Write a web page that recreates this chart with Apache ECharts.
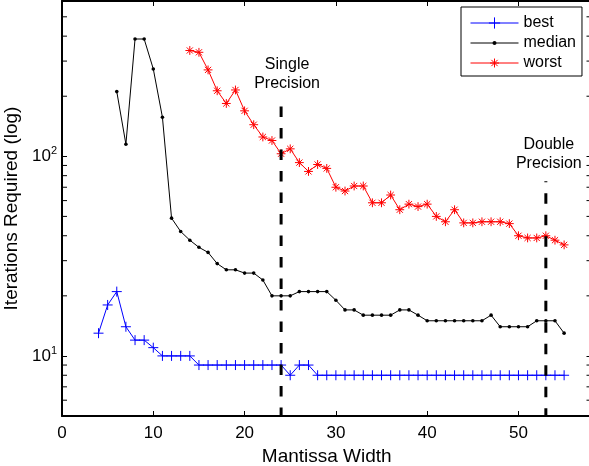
<!DOCTYPE html>
<html><head><meta charset="utf-8">
<script src="https://cdn.jsdelivr.net/npm/echarts@6/dist/echarts.min.js"></script>
<style>html,body{margin:0;padding:0;background:#fff}#c{width:589px;height:466px}</style>
</head><body><div id="c"></div>
<script>
// ---- data ----
const widths = [4,5,6,7,8,9,10,11,12,13,14,15,16,17,18,19,20,21,22,23,24,25,26,27,28,29,30,31,32,33,34,35,36,37,38,39,40,41,42,43,44,45,46,47,48,49,50,51,52,53,54,55];
const best = [13,18,21,14,12,12,11,10,10,10,10,9,9,9,9,9,9,9,9,9,9,8,9,9,8,8,8,8,8,8,8,8,8,8,8,8,8,8,8,8,8,8,8,8,8,8,8,8,8,8,8,8];
const median = [null,null,211,115,387,387,274,157,49,42,38,35,33,29,27,27,26,26,24,20,20,20,21,21,21,21,19,17,17,16,16,16,16,17,17,16,15,15,15,15,15,15,15,16,14,14,14,14,15,15,15,13];
const worst = [null,null,null,null,null,null,null,null,null,null,339,332,271,213,184,215,169,144,125,120,103,109,93,84,91,87,70,67,71,71,58.5,58.5,64,54,57.6,56,57.6,50,47,54,46.4,46.4,47,47,47,46,40,39,39,40,38,36];
const seriesNames = ['best','median','worst'];
const precisionX = [24, 53];
const precisionTop = [190, 75];
const precisionLabels = ['Single\nPrecision', 'Double\nPrecision'];
const xTicks = [0,10,20,30,40,50];
const yMinorTicks = [6,7,8,9,20,30,40,50,60,70,80,90,200,300,400,500];
const xMin = 0, xMax = 58, yMin = 5, yMax = 600;

// ---- chart ----
const FONT = '"Liberation Sans", Arial, Helvetica, sans-serif';
const pairs = ys => widths.map((x,i) => ys[i] == null ? null : [x, ys[i]]).filter(Boolean);
const PLUS = 'path://M5,0L5,10M0,5L10,5';
const STAR = 'path://M0,0M10,10M5,1L5,9M1,5L9,5M2.2,2.2L7.8,7.8M7.8,2.2L2.2,7.8';
const DOT = 'path://M0,0M10,10M6.8,5A1.8,1.8,0,1,1,3.2,5A1.8,1.8,0,1,1,6.8,5Z';
const colors = ['#0000ff','#000000','#ff0000'];
const symbols = [PLUS, DOT, STAR];
const symSizes = [10, 10, 11];
const borderWidths = [1, 0, 1];
const values = [best, median, worst];
const labelOffsets = [[6,0],[3,0]];
const dashOffsets = [15.8, 9.5];

const axisLineStyle = {color:'#000', width:2};
const tickStyle = {inside:true, length:5, lineStyle:{color:'#000', width:1}};

const chart = echarts.init(document.getElementById('c'));
const dataSeries = seriesNames.map((n,i) => ({
  type:'line', name:n, data:pairs(values[i]),
  symbol:symbols[i], symbolSize:symSizes[i],
  lineStyle:{color:colors[i], width:1},
  itemStyle:{color:colors[i], borderColor:colors[i], borderWidth:borderWidths[i]},
  z:3, silent:true
}));
const dashSeries = precisionX.map((x,i) => ({
  type:'line', data:[[x, precisionTop[i]],[x, yMin]], symbol:'none', silent:true, z:5,
  lineStyle:{color:'#000', width:3, type:[10.5,11], dashOffset:dashOffsets[i]}
}));
const textSeries = {
  type:'scatter', symbolSize:0, silent:true, z:6,
  itemStyle:{opacity:1, color:'#000'},
  data:precisionX.map((x,i)=>({value:[x, precisionTop[i]], label:{offset:labelOffsets[i]}})),
  label:{show:true, position:'top', distance:8, formatter:p => precisionLabels[p.dataIndex],
    fontFamily:FONT, fontSize:16, lineHeight:19, color:'#000', opacity:1, align:'center'}
};
const minorTickSeries = {
  type:'custom', silent:true, clip:false, z:4,
  data:yMinorTicks.map(v=>[xMin, v]), encode:{x:0, y:1},
  renderItem:(params, api) => {
    const y = api.coord([xMin, api.value(1)])[1];
    const cs = params.coordSys;
    return {type:'group', children:[
      {type:'line', shape:{x1:cs.x, y1:y, x2:cs.x+5, y2:y}, style:{stroke:'#000', lineWidth:1}},
      {type:'line', shape:{x1:cs.x+cs.width, y1:y, x2:cs.x+cs.width-5, y2:y}, style:{stroke:'#000', lineWidth:1}}
    ]};
  }
};
const isPow10 = v => Math.abs(Math.log10(v) - Math.round(Math.log10(v))) < 1e-6;

chart.setOption({
  animation:false,
  backgroundColor:'#fff',
  grid:{left:62, top:1, right:-2.5, bottom:50, containLabel:false, outerBoundsMode:'none'},
  legend:{
    orient:'vertical', left:461, top:7, padding:[8,6,5,9], itemGap:4, itemWidth:48, itemHeight:14,
    backgroundColor:'#fff', borderColor:'#000', borderWidth:1, borderRadius:0, selectedMode:false,
    textStyle:{fontFamily:FONT, fontSize:16, color:'#000'},
    data:seriesNames.map((n,i)=>({name:n, itemStyle:{color:colors[i], borderColor:colors[i], borderWidth:borderWidths[i]}, lineStyle:{color:colors[i], width:1}}))
  },
  xAxis:[
    {type:'value', min:xMin, max:xMax, interval:10, position:'bottom',
     axisLine:{show:true, onZero:false, lineStyle:axisLineStyle}, axisTick:tickStyle,
     axisLabel:{margin:9, fontFamily:FONT, fontSize:17, color:'#000', showMaxLabel:false,
       formatter:v => xTicks.includes(v) ? String(v) : ''},
     splitLine:{show:false},
     name:'Mantissa Width', nameLocation:'middle', nameGap:31,
     nameTextStyle:{fontFamily:FONT, fontSize:19, color:'#000'}},
    {type:'value', min:xMin, max:xMax, interval:10, position:'top',
     axisLine:{show:true, onZero:false, lineStyle:axisLineStyle}, axisTick:tickStyle,
     axisLabel:{show:false}, splitLine:{show:false}}
  ],
  yAxis:[
    {type:'log', logBase:10, min:yMin, max:yMax, position:'left',
     axisLine:{show:true, onZero:false, lineStyle:axisLineStyle}, axisTick:tickStyle,
     axisLabel:{margin:5, color:'#000',
       formatter:v => isPow10(v) ? '{b|10}{s|' + Math.round(Math.log10(v)) + '}' : '',
       rich:{b:{fontFamily:FONT, fontSize:17, lineHeight:17, verticalAlign:'bottom', color:'#000'},
             s:{fontFamily:FONT, fontSize:11, lineHeight:11, verticalAlign:'bottom', padding:[0,0,8,0], color:'#000'}}},
     splitLine:{show:false}, minorTick:{show:false},
     name:'Iterations Required (log)', nameLocation:'middle', nameGap:35, nameRotate:90,
     nameTextStyle:{fontFamily:FONT, fontSize:19, color:'#000'}},
    {type:'log', logBase:10, min:yMin, max:yMax, position:'right',
     axisLine:{show:true, onZero:false, lineStyle:axisLineStyle}, axisTick:tickStyle,
     axisLabel:{show:false}, splitLine:{show:false}}
  ],
  series:[...dataSeries, ...dashSeries, textSeries, minorTickSeries]
});
</script></body></html>
